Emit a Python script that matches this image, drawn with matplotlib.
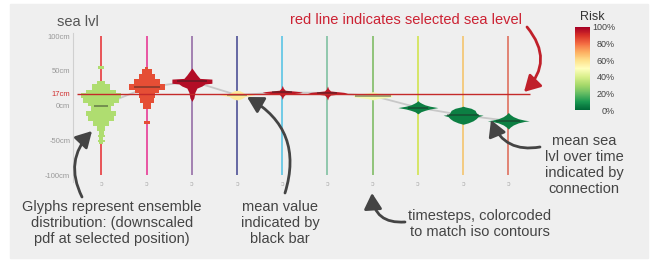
import numpy as np
import matplotlib.pyplot as plt
from matplotlib.patches import Rectangle
import matplotlib as mpl

plt.rcParams['font.family'] = ['Liberation Sans', 'DejaVu Sans']

W, H = 652, 264

# timesteps
steps = list(range(10))
step_labels = ['ɔ'] * 10
step_colors = ['#e8474a', '#e8489c', '#9c78ac', '#5a5c9c', '#66c8e6',
               '#88c4a8', '#88c070', '#d4e45c', '#f4c878', '#e07a6a']
mean_cm = [0, 26, 35, 15, 19, 18, 14, -3, -14, -22]
risk = [0.32, 0.85, 0.97, 0.57, 0.95, 0.95, 0.47, 0.05, 0.05, 0.05]
mean_bar_px = [7, 13, 15, 10, 10, 10, 18, 10, 16, 12]
sel_level = 17

yticks = [100, 50, 17, 0, -50, -100]
ytick_labels = ['100cm', '50cm', '17cm', '0cm', '-50cm', '-100cm']

risk_ticks = [0, 0.2, 0.4, 0.6, 0.8, 1.0]
risk_labels = ['0%', '20%', '40%', '60%', '80%', '100%']

# stepped glyphs (timestep 0 and 1): band edges in cm, half widths in px
g0_edges = [57, 52, 35, 30.5, 23, 17.5, 11, 4, -0.7, -8, -15, -22, -29.5, -36.7, -42, -46, -50, -53, -56]
g0_hw = [3, 0, 4, 9, 15, 20, 18, 13, 10, 15, 13, 8, 4, 2.5, 3.5, 2, 3.5, 2]
g1_edges = [55, 52, 45, 38, 30.5, 23, 18, 11, 4, -5.5, -22, -27]
g1_hw = [1.5, 5, 8, 13, 18, 12, 8, 7, 4, 0, 3]

# smooth glyphs: offsets from mean in cm, half widths in px
g2_dy = [19, 15, 9, 4, 3, -3, -4, -7, -10, -16, -24, -29]
g2_hw = [0, 2, 5, 8, 20, 20, 13, 10, 5, 3, 2, 0]
g3_dy = [7, 6, 4, 2, 1, 0, -1, -2, -4, -6, -7]
g3_hw = [0, 3, 6, 8, 12, 18, 12, 8, 6, 3, 0]
g4_dy = [10, 6, 3, 2, 1, 0, -1, -2, -3, -6, -10]
g4_hw = [0, 1, 3, 10, 17, 20, 17, 10, 3, 1, 0]
g5_dy = [10, 6, 3, 2, 1, 0, -1, -2, -3, -6, -10]
g5_hw = [0, 1, 3, 9, 16, 20, 16, 9, 3, 1, 0]
g6_dy = [6, 4, 3, 1.5, -1.5, -3, -4, -6]
g6_hw = [0, 5, 12, 19, 19, 12, 5, 0]
g7_dy = [10, 8, 6, 4, 2, 0, -2, -4, -6, -9]
g7_hw = [0, 1.5, 4, 7, 12, 20, 12, 7, 3, 0]
g8_dy = [13, 12, 10, 7, 4, 1, 0, -2, -5, -8, -11, -13]
g8_hw = [0, 2, 8, 12, 13, 15, 20, 15, 13, 10, 5, 0]
g9_dy = [12, 9, 6, 3, 1, 0, -1, -3, -6, -9, -12]
g9_hw = [0, 2, 5, 10, 16, 21, 16, 10, 5, 2, 0]

step_glyphs = [(g0_edges, g0_hw), (g1_edges, g1_hw)]
smooth_glyphs = [(g2_dy, g2_hw), (g3_dy, g3_hw), (g4_dy, g4_hw), (g5_dy, g5_hw),
                 (g6_dy, g6_hw), (g7_dy, g7_hw), (g8_dy, g8_hw), (g9_dy, g9_hw)]

PX = 45.2  # px per timestep

fig = plt.figure(figsize=(W / 100, H / 100), dpi=100)
fig.patches.append(Rectangle((10 / W, 6 / H), 638 / W, 254 / H, transform=fig.transFigure,
                             color='#efefef', zorder=-10))

ax = fig.add_axes([73 / W, 1 - 193 / H, (545 - 73) / W, (193 - 31) / H])
ax.set_facecolor('none')
ax.set_xlim(-0.6305, 9.812)
ax.set_ylim(-125.9, 107.2)

cmap = plt.get_cmap('RdYlGn_r')

ax.vlines(steps, -100, 100, colors=step_colors, lw=1.3, zorder=1)
ax.plot(steps, mean_cm, color='#c8c8c8', lw=1.3, zorder=2)
ax.hlines(sel_level, -0.54, 9.48, color='#c42a2a', lw=1.0, zorder=4)

for i, (edges, hw) in enumerate(step_glyphs):
    ys = np.repeat(edges, 2)[1:-1]
    ws = np.repeat(hw, 2) / PX
    ax.fill_betweenx(ys, steps[i] - ws, steps[i] + ws, color=cmap(risk[i]), lw=0, zorder=3)

for j, (dy, hw) in enumerate(smooth_glyphs):
    i = j + 2
    ys = mean_cm[i] + np.array(dy)
    ws = np.array(hw) / PX
    ax.fill_betweenx(ys, steps[i] - ws, steps[i] + ws, color=cmap(risk[i]), lw=0, zorder=3)

for i in steps:
    w = mean_bar_px[i] / PX
    ax.hlines(mean_cm[i], steps[i] - w, steps[i] + w, color='#222222', alpha=0.45, lw=1.3, zorder=3.5)

for i in steps:
    ax.text(steps[i], -114, step_labels[i], ha='center', va='center', fontsize=5, color='#aaaaaa')

for s in ['top', 'right', 'bottom']:
    ax.spines[s].set_visible(False)
ax.spines['left'].set_color('#d0d0d0')
ax.spines['left'].set_linewidth(0.8)
ax.spines['left'].set_bounds(-110, 105)
ax.set_xticks([])
ax.set_yticks(yticks)
ax.set_yticklabels(ytick_labels)
ax.tick_params(axis='y', length=0, pad=2, labelsize=5.5, labelcolor='#999999')
for lab, v in zip(ax.get_yticklabels(), yticks):
    if v == sel_level:
        lab.set_color('#d03030')

fig.text(57 / W, 1 - 22 / H, 'sea lvl', ha='left', va='center', fontsize=10.5, color='#555555')

# risk colorbar
cax = fig.add_axes([575 / W, 1 - 110 / H, 15 / W, 83 / H])
cb = mpl.colorbar.ColorbarBase(cax, cmap=cmap, norm=mpl.colors.Normalize(0, 1))
cb.outline.set_visible(False)
cb.set_ticks(risk_ticks)
cb.set_ticklabels(risk_labels)
cax.tick_params(length=0, pad=18, labelsize=6.5, labelcolor='#444444')
for lab in cax.get_yticklabels():
    lab.set_horizontalalignment('right')
fig.text(592 / W, 1 - 17 / H, 'Risk', ha='center', va='center', fontsize=9, color='#333333')

# annotations
txt = dict(ha='center', va='center', fontsize=10.5, color='#444444', linespacing=1.17)
fig.text(406 / W, 1 - 20 / H, 'red line indicates selected sea level', ha='center', va='center',
         fontsize=10.5, color='#cc2233')
fig.text(112 / W, 1 - 223 / H, 'Glyphs represent ensemble\ndistribution: (downscaled\npdf at selected position)', **txt)
fig.text(280 / W, 1 - 223 / H, 'mean value\nindicated by\nblack bar', **txt)
fig.text(480 / W, 1 - 224 / H, 'timesteps, colorcoded\nto match iso contours', **txt)
fig.text(584 / W, 1 - 165 / H, 'mean sea\nlvl over time\nindicated by\nconnection', **txt)


def arrow(tail, tip, rad, color):
    ax.annotate('', xy=(tip[0], H - tip[1]), xycoords='figure pixels',
                xytext=(tail[0], H - tail[1]), textcoords='figure pixels',
                arrowprops=dict(arrowstyle='-|>,head_length=0.8,head_width=0.45',
                                connectionstyle=f'arc3,rad={rad}', color=color, lw=2,
                                shrinkA=0, shrinkB=0, mutation_scale=12))


arrow((82, 197), (92, 131), -0.35, '#444444')
arrow((285, 193), (247, 97), 0.4, '#444444')
arrow((405, 222), (372, 193), -0.5, '#444444')
arrow((540, 147), (491, 120), -0.4, '#444444')
arrow((527, 27), (524, 92), -0.45, '#c0202a')

fig.savefig('out.png', dpi=100)
